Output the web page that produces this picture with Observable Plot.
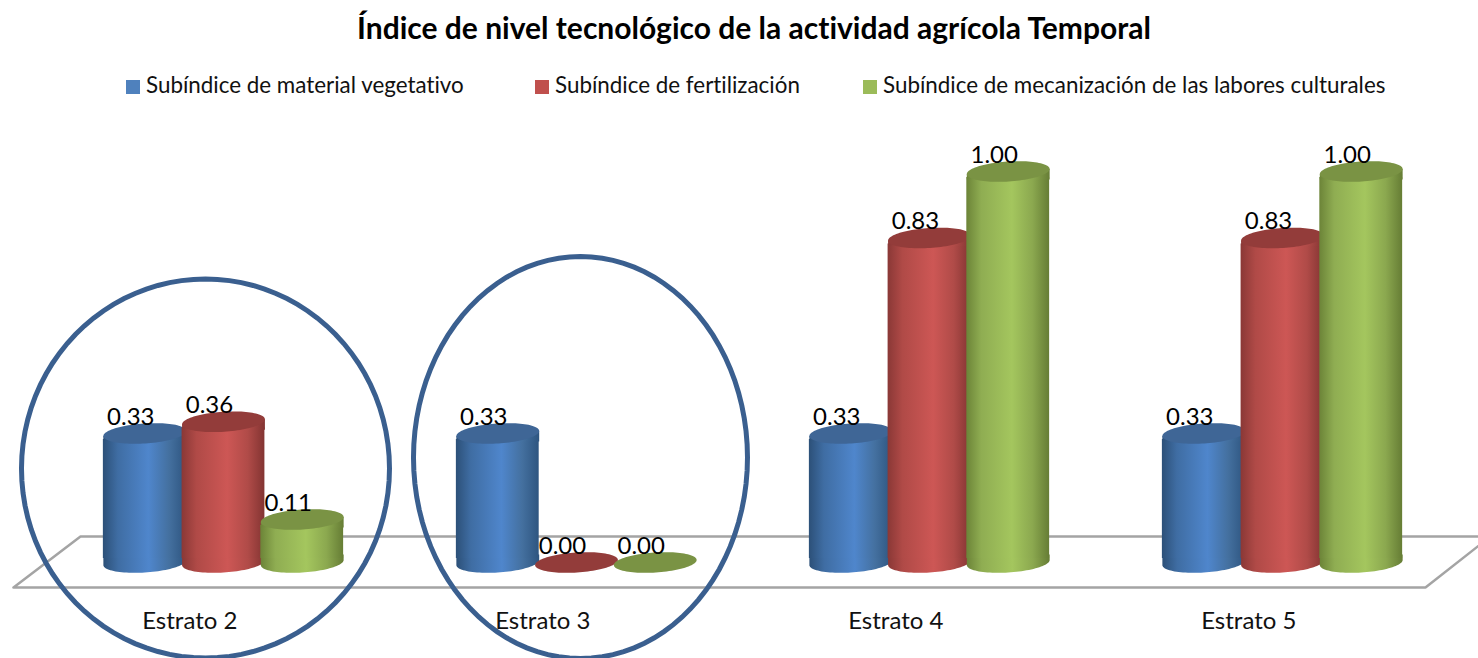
<!DOCTYPE html>
<html lang="es">
<head>
<meta charset="utf-8">
<script src="https://cdn.jsdelivr.net/npm/d3@7"></script>
<script src="https://cdn.jsdelivr.net/npm/@observablehq/plot@0.6"></script>
<style>
  html, body { margin: 0; padding: 0; background: #fff; overflow: hidden; }
  body { width: 1478px; height: 658px; font-family: Lato, "Open Sans", sans-serif; color: #000; font-variant-ligatures: none; }
  #head { position: relative; height: 108px; }
  #title { position: absolute; left: 0; top: 9px; width: 1508px; text-align: center; font-size: 30px; font-weight: 700; line-height: 36px; }
  .item { position: absolute; top: 71px; height: 28px; line-height: 28px; font-size: 22.4px; white-space: nowrap; color: #111; }
  .item i { position: absolute; left: -20px; top: 9px; width: 14px; height: 14px; }
  svg { display: block; font-variant-ligatures: none; }
</style>
</head>
<body>
<div id="head"><div id="title">Índice de nivel tecnológico de la actividad agrícola Temporal</div></div>
<div id="chart"></div>
<script>
const categories = ["Estrato 2", "Estrato 3", "Estrato 4", "Estrato 5"];
const seriesNames = [
  "Subíndice de material vegetativo",
  "Subíndice de fertilización",
  "Subíndice de mecanización de las labores culturales"
];
const materialVegetativo = [0.33, 0.33, 0.33, 0.33];
const fertilizacion = [0.36, 0.00, 0.83, 0.83];
const mecanizacion = [0.11, 0.00, 1.00, 1.00];
const seriesValues = [materialVegetativo, fertilizacion, mecanizacion];

// Styles
const legendColors = ["#4f81bd", "#c0504d", "#9bbb59"];
const topColors = ["#3f6696", "#933c3a", "#7a9344"];
const gradients = [
  [["0%", "#2c5078"], ["18%", "#3f6da3"], ["55%", "#4f86cc"], ["80%", "#44709f"], ["100%", "#2e5580"]],
  [["0%", "#8a3836"], ["18%", "#b04a47"], ["55%", "#cd5755"], ["80%", "#b04b48"], ["100%", "#833432"]],
  [["0%", "#6c8438"], ["18%", "#8fad52"], ["55%", "#a4c65e"], ["80%", "#8ba84f"], ["100%", "#667d35"]]
];
const legendLeft = [146, 555, 883];

const head = document.getElementById("head");
seriesNames.forEach((name, s) => {
  const d = document.createElement("div");
  d.className = "item";
  d.style.left = legendLeft[s] + "px";
  d.innerHTML = `<i style="background:${legendColors[s]}"></i>`;
  d.appendChild(document.createTextNode(name));
  head.appendChild(d);
});

// Tilted ellipse geometry, in pixels around a dot's anchor
function ellipseGeometry(rx, ry, tilt) {
  const c = Math.cos(tilt), t = Math.sin(tilt);
  const pt = a => [
    rx * Math.cos(a) * c - ry * Math.sin(a) * t,
    rx * Math.cos(a) * t + ry * Math.sin(a) * c
  ];
  const a0 = Math.atan2(-ry * t, rx * c); // right-most point of the ellipse
  return {pt, a0, right: pt(a0)};
}
function ellipseSymbol(rx, ry, tilt) {
  const {pt} = ellipseGeometry(rx, ry, tilt);
  return {
    draw(ctx) {
      for (let k = 0; k < 96; ++k) {
        const [x, y] = pt((k / 96) * 2 * Math.PI);
        k ? ctx.lineTo(x, y) : ctx.moveTo(x, y);
      }
      ctx.closePath();
    }
  };
}
// Lower half of the ellipse plus a short straight skirt going up
function baseSymbol(rx, ry, tilt, up) {
  const {pt, a0, right} = ellipseGeometry(rx, ry, tilt);
  return {
    draw(ctx) {
      for (let k = 0; k <= 48; ++k) {
        const [x, y] = pt(a0 + (k / 48) * Math.PI);
        k ? ctx.lineTo(x, y) : ctx.moveTo(x, y);
      }
      ctx.lineTo(-right[0], -up);
      ctx.lineTo(right[0], -up);
      ctx.closePath();
    }
  };
}
// Upper collar of the side wall: from the ellipse's long ends down a few pixels
function collarSymbol(rx, ry, tilt, down) {
  const {right} = ellipseGeometry(rx, ry, tilt);
  return {
    draw(ctx) {
      ctx.moveTo(-right[0], -right[1]);
      ctx.lineTo(right[0], right[1]);
      ctx.lineTo(right[0], down);
      ctx.lineTo(-right[0], down);
      ctx.closePath();
    }
  };
}
const capRx = 41.5, capRy = 10, capTilt = -0.065;
const capSymbol = ellipseSymbol(capRx, capRy, capTilt);
const bottomSymbol = baseSymbol(capRx, capRy, capTilt, 8);
const topWallSymbol = collarSymbol(capRx, capRy, capTilt, 8);

const barStep = 0.223;   // spacing of bars within a category, in category units
const barHalf = 0.1173;  // half bar width, in category units

const defs = () => {
  const g = d3.create("svg:defs");
  gradients.forEach((stops, s) => {
    const lg = g.append("linearGradient").attr("id", "cyl" + s)
      .attr("x1", "0").attr("x2", "1").attr("y1", "0").attr("y2", "0");
    stops.forEach(([o, c]) => lg.append("stop").attr("offset", o).attr("stop-color", c));
  });
  return g.node();
};

const floorOutline = [
  {x: -0.5949, y: -0.0639},
  {x: -0.4051, y: 0.0665},
  {x: 3.589, y: 0.0665},
  {x: 3.405, y: -0.0639},
  {x: -0.5949, y: -0.0639}
];

const circledGroups = [
  {x: -0.0510, y: 0.2404, rx: 184, ry: 189.5},
  {x: 1.0113, y: 0.2685, rx: 167, ry: 201}
];

const seriesMarks = seriesValues.flatMap((values, s) => {
  const rows = values.map((v, i) => ({i, v, x: i + (s - 1) * barStep}));
  const raised = rows.filter(d => d.v > 0);
  const fill = `url(#cyl${s})`;
  return [
    Plot.dot(raised, {x: "x", y: 0, symbol: bottomSymbol, fill, stroke: "none"}),
    Plot.rect(raised, {x1: d => d.x - barHalf, x2: d => d.x + barHalf, y1: 0, y2: "v", insetTop: 6, insetBottom: 4, fill}),
    Plot.dot(raised, {x: "x", y: "v", symbol: topWallSymbol, fill, stroke: "none"}),
    Plot.dot(rows, {x: "x", y: "v", symbol: capSymbol, fill: topColors[s], stroke: "none"})
  ];
});

const labelRows = seriesValues.flatMap((values, s) =>
  values.map((v, i) => ({v, x: i + (s - 1) * barStep})));

const plot = Plot.plot({
  width: 1478,
  height: 550,
  marginTop: 0, marginRight: 0, marginBottom: 0, marginLeft: 0,
  style: {background: "#fff", fontFamily: "Lato, 'Open Sans', sans-serif", overflow: "hidden"},
  x: {domain: [-0.6317, 3.5552], axis: null},
  y: {domain: [-0.2455, 1.1611], axis: null},
  marks: [
    defs,
    Plot.line(floorOutline, {x: "x", y: "y", stroke: "#a4a4a4", strokeWidth: 2.5, strokeLinejoin: "miter", curve: "linear"}),
    ...seriesMarks,
    Plot.text(labelRows, {x: "x", y: "v", text: d => d.v.toFixed(2), dx: -14, dy: -16.5, fontSize: 24, fill: "#000", textAnchor: "middle", lineAnchor: "middle"}),
    Plot.text(categories, {x: (d, i) => i - 0.0955, y: -0.1495, text: d => d, fontSize: 24, fill: "#111", textAnchor: "middle", lineAnchor: "middle"}),
    ...circledGroups.map(e =>
      Plot.dot([e], {x: "x", y: "y", symbol: ellipseSymbol(e.rx, e.ry, 0), fill: "none", stroke: "#3a5f8f", strokeWidth: 5})
    )
  ]
});
document.getElementById("chart").appendChild(plot);
</script>
</body>
</html>
